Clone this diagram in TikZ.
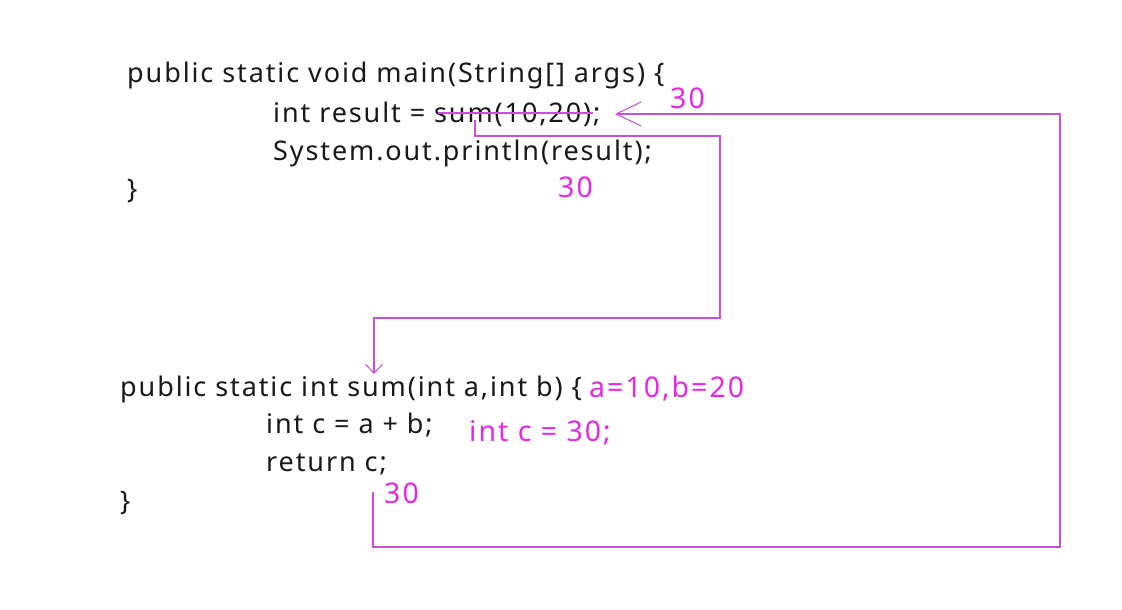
\documentclass[tikz,border=0pt]{standalone}
\usepackage{fontspec}
\setmainfont{Noto Sans}[LetterSpace=7]
\newfontfamily\notefont{Noto Sans}[LetterSpace=7]
\usetikzlibrary{arrows.meta}
\definecolor{codeblack}{RGB}{25,25,25}
\definecolor{magtext}{RGB}{228,40,228}
\definecolor{magline}{RGB}{200,80,210}
\tikzset{
  code/.style={anchor=base west, inner sep=0pt, text=codeblack, font=\fontsize{27}{30}\selectfont},
  note/.style={anchor=base west, inner sep=0pt, text=magtext, font=\notefont\fontsize{28.5}{30}\selectfont},
  flow/.style={draw=magline, line width=1.3pt},
}
\begin{document}
\begin{tikzpicture}[x=1pt,y=-1pt]
\useasboundingbox[fill=white] (0,0) rectangle (1122,610);
% upper block
\node[code] (m1) at (127,83) {public static void main(String[] args) \{};
\node[code] (m2) at (273,122) {int result = sum(10,20);};
\node[code] (m3) at (273,160) {System.out.println(result);};
\node[code] (m4) at (127,198) {\}};
% lower block
\node[code] (s1) at (120,396) {public static int sum(int a,int b) \{};
\node[code] (s2) at (266,433) {int c = a + b;};
\node[code] (s3) at (266,471) {return c;};
\node[code] (s4) at (120,510) {\}};
% annotations
\node[note] (n1) at (670,108) {30};
\node[note] (n2) at (558,197) {30};
\node[note] (n3) at (589,397) {a=10,b=20};
\node[note] (n4) at (469,441) {int c = 30;};
\node[note] (n5) at (384,503) {30};
% path points
\coordinate (k1) at (438,113);
\coordinate (k2) at (593,113);
\coordinate (c1) at (475,120);
\coordinate (c2) at (720,136);
\coordinate (c3) at (374,318);
\coordinate (c4) at (374,374);
\coordinate (r1) at (373,492);
\coordinate (r2) at (1060,547);
\coordinate (r3) at (615,114);
% strike through sum(10,20)
\draw[flow] (k1) -- (k2);
% call path
\draw[flow, -{Straight Barb[length=9pt,width=17pt,line width=1pt]}]
  (c1) |- (c2) -- (c2 |- c3) -- (c3) -- (c4);
% return path
\draw[flow, -{Straight Barb[length=25pt,width=24pt,line width=1pt]}]
  (r1) |- (r2) -- (r2 |- r3) -- (r3);
\end{tikzpicture}
\end{document}
